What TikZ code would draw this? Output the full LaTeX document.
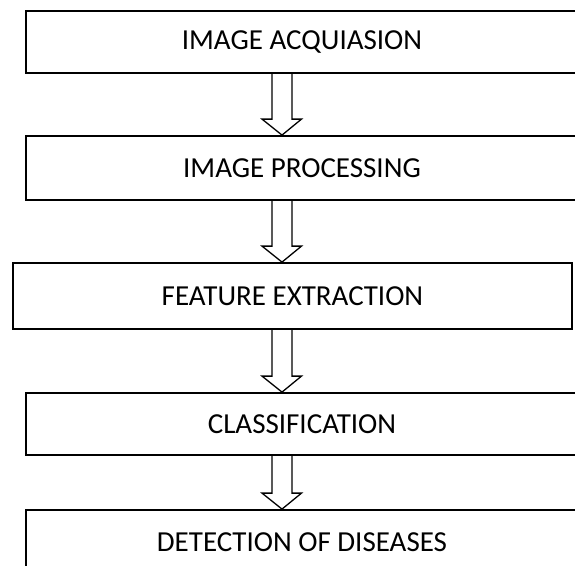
\documentclass[tikz,border=0pt]{standalone}
\usepackage{fontspec}
\setmainfont{Carlito}
\usepackage{tikz}
\usetikzlibrary{calc, positioning}

\begin{document}
\begin{tikzpicture}[
  x=1pt, y=-1pt,
  box/.style={rectangle, draw=black, line width=1.8pt, inner sep=0pt, minimum width=552pt, minimum height=#1, text centered, font=\fontsize{29}{34}\selectfont},
  blockarr/.style={draw=black, line width=1.3pt, line join=miter}
]
\useasboundingbox (0,0) rectangle (575,565);

% Stages (top to bottom)
\node[box=62pt] (acq) at (302,42) {IMAGE ACQUIASION};
\node[box=64pt] (proc) at (302,168) {IMAGE PROCESSING};
\node[box=66pt, minimum width=559pt] (feat) at (292.5,296) {FEATURE EXTRACTION};
\node[box=62pt] (cls) at (302,424) {CLASSIFICATION};
\node[box=64pt] (det) at (302,542) {DETECTION OF DISEASES};

% Hollow arrows between stages
\coordinate (axis) at (282,0);
\foreach \a/\b in {acq/proc, proc/feat, feat/cls, cls/det} {
  \draw[blockarr] ($(axis |- \a.south)+(-10,0)$) -- ($(axis |- \b.north)+(-10,-16)$)
    -- ($(axis |- \b.north)+(-20,-16)$) -- (axis |- \b.north)
    -- ($(axis |- \b.north)+(19.5,-16)$) -- ($(axis |- \b.north)+(10,-16)$)
    -- ($(axis |- \a.south)+(10,0)$);
}

\end{tikzpicture}
\end{document}
